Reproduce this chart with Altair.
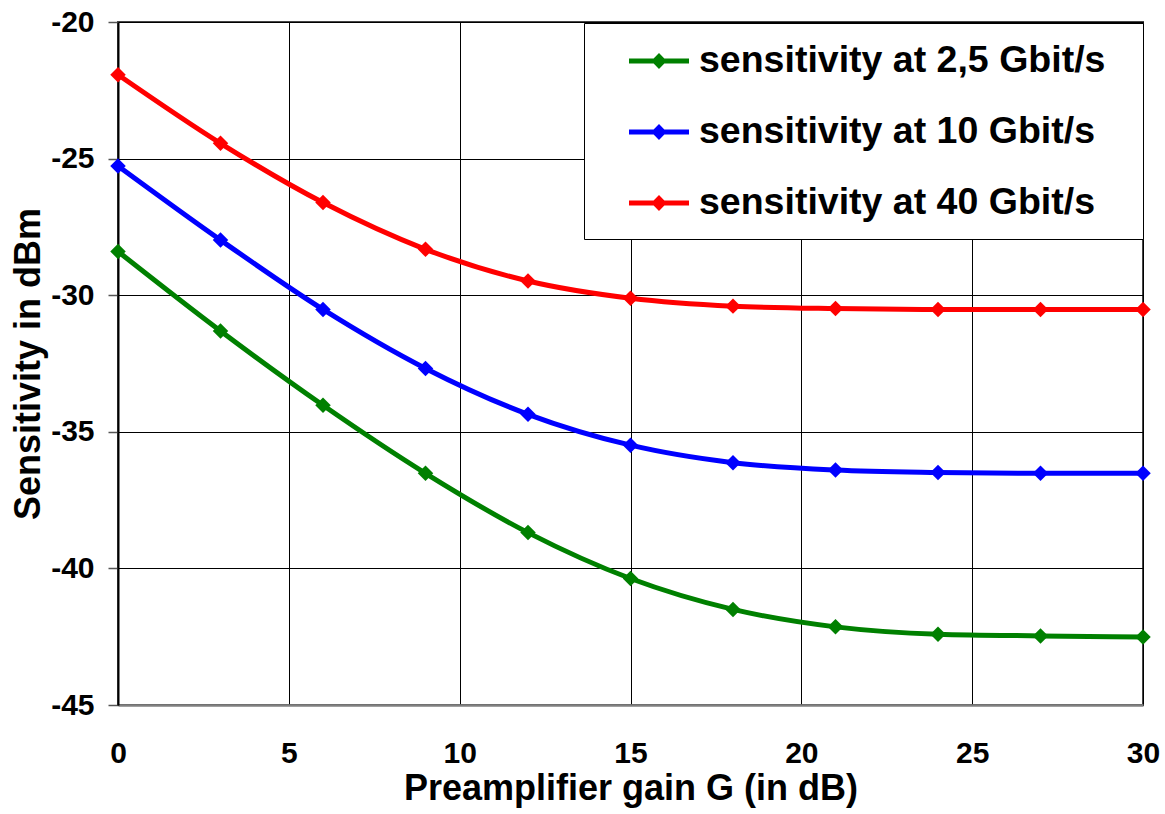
import altair as alt
import pandas as pd

gain = [0, 3, 6, 9, 12, 15, 18, 21, 24, 27, 30]
sens_2_5 = [-28.40, -31.31, -34.03, -36.52, -38.69, -40.37, -41.50, -42.14, -42.41, -42.47, -42.51]
sens_10 = [-25.27, -27.98, -30.52, -32.68, -34.36, -35.49, -36.13, -36.40, -36.49, -36.52, -36.52]
sens_40 = [-21.93, -24.44, -26.61, -28.32, -29.48, -30.11, -30.40, -30.49, -30.52, -30.52, -30.52]
series_names = ["sensitivity at 2,5 Gbit/s", "sensitivity at 10 Gbit/s", "sensitivity at 40 Gbit/s"]
series_colors = ["#008000", "#0000FF", "#FF0000"]
x_ticks = [0, 5, 10, 15, 20, 25, 30]
y_ticks = [-45, -40, -35, -30, -25, -20]

rows = []
for name, vals in zip(series_names, [sens_2_5, sens_10, sens_40]):
    for g, v in zip(gain, vals):
        rows.append({"gain": g, "sens": v, "series": name})
df = pd.DataFrame(rows)

FONT = "Liberation Sans, Arial, sans-serif"

legend_symbol = "M-1.45,-0.08H1.45V0.08H-1.45Z M-0.32,0L0,-0.33L0.32,0L0,0.33Z"

color_scale = alt.Scale(domain=series_names, range=series_colors)


def make_legend():
    return alt.Legend(
        title=".",
        titleOrient="right",
        titleColor="white",
        titleFontSize=8,
        titlePadding=18,
        orient="none",
        legendX=466,
        legendY=1,
        symbolType=legend_symbol,
        symbolSize=1600,
        symbolStrokeWidth=2,
        symbolOpacity=1,
        symbolOffset=37,
        labelFont=FONT,
        labelFontSize=37.5,
        labelFontWeight="bold",
        labelColor="black",
        labelOffset=19,
        labelLimit=700,
        padding=17,
        rowPadding=31,
        strokeColor="black",
        fillColor="white",
    )


x = alt.X(
    "gain:Q",
    scale=alt.Scale(domain=[0, 30], nice=False),
    axis=alt.Axis(
        values=x_ticks,
        title="Preamplifier gain G (in dB)",
        titleFont=FONT,
        titleFontSize=36,
        titleFontWeight="bold",
        titleColor="black",
        titleBaseline="alphabetic",
        titleY=94,
        labelFont=FONT,
        labelFontSize=30,
        labelFontWeight="bold",
        labelColor="black",
        labelPadding=33,
        ticks=False,
        domainColor="#808080",
        domainWidth=2.5,
        gridColor="black",
        gridWidth=1,
        labelFlush=False,
    ),
)

y = alt.Y(
    "sens:Q",
    scale=alt.Scale(domain=[-45, -20], nice=False),
    axis=alt.Axis(
        values=y_ticks,
        title="Sensitivity in dBm",
        titleFont=FONT,
        titleFontSize=36,
        titleFontWeight="bold",
        titleColor="black",
        titleBaseline="alphabetic",
        titleX=-79,
        labelFont=FONT,
        labelFontSize=30,
        labelFontWeight="bold",
        labelColor="black",
        labelPadding=14,
        labelExpr="'' + datum.value",
        tickSize=10,
        tickColor="#555555",
        tickWidth=1.5,
        domainColor="black",
        domainWidth=2,
        gridColor="black",
        gridWidth=1,
    ),
)

base = alt.Chart(df)
points = base.mark_point(shape="diamond", filled=True, size=240, opacity=1).encode(
    x=x, y=y, color=alt.Color("series:N", sort=series_names, scale=color_scale, legend=make_legend())
)
lines = base.mark_line(strokeWidth=5, interpolate="monotone").encode(
    x=x, y=y, color=alt.Color("series:N", sort=series_names, scale=color_scale, legend=make_legend())
)

chart = (
    alt.layer(points, lines)
    .properties(
        width=1025,
        height=683,
        autosize="none",
        padding={"left": 118, "top": 22, "right": 22, "bottom": 109},
        background="white",
    )
    .configure_view(stroke="#444444", strokeWidth=2)
)

chart.save("out.html", embed_options={"renderer": "svg", "actions": False})
